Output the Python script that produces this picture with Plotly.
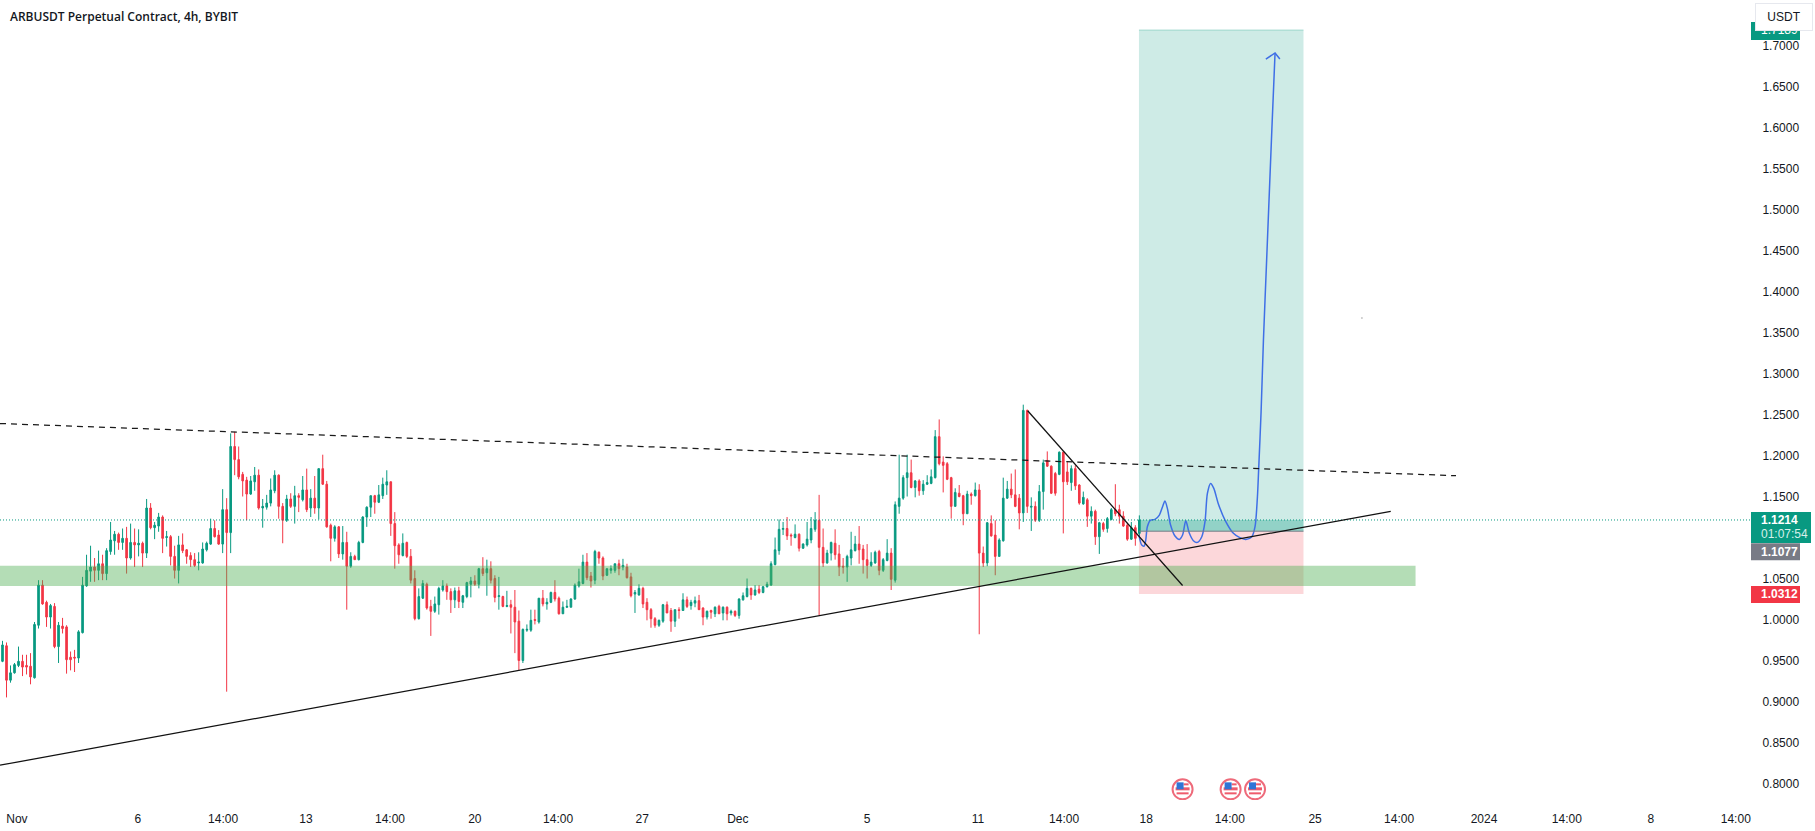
import plotly.graph_objects as go

# ---------- data ----------
opens = [.949,.968,.926,.935,.944,.949,.944,.943,.929,.993,
1.042,1.021,1.003,1.016,.967,.992,.991,.954,.954,.953,
.984,1.041,1.059,1.064,1.060,1.068,1.056,1.083,1.096,1.104,
1.094,1.099,1.075,1.094,1.091,1.093,1.081,1.136,1.112,1.114,
1.125,1.100,1.101,1.077,1.060,1.091,1.085,1.078,1.073,1.069,
1.069,1.085,1.092,1.111,1.103,1.092,1.134,1.106,1.211,1.195,
1.177,1.170,1.153,1.168,1.176,1.136,1.137,1.142,1.157,1.176,
1.138,1.121,1.147,1.138,1.151,1.146,1.158,1.136,1.148,1.136,
1.184,1.165,1.115,1.099,1.113,1.080,1.094,1.065,1.077,1.073,
1.094,1.125,1.137,1.151,1.143,1.151,1.164,1.168,1.117,1.091,
1.078,1.094,1.077,1.050,1.001,1.026,1.043,1.016,1.010,1.018,
1.036,1.041,1.034,1.024,1.035,1.021,1.028,1.043,1.047,1.043,
1.062,1.057,1.062,1.050,1.028,1.028,1.016,1.018,1.015,.998,
.950,.987,.987,1.000,.997,1.026,1.019,1.021,1.033,1.026,
1.007,1.015,1.015,1.025,1.041,1.044,1.070,1.053,1.048,1.082,
1.075,1.054,1.060,1.060,1.068,1.064,1.064,1.052,1.031,1.030,
1.038,1.021,1.012,1.001,.993,.998,1.018,1.011,.998,1.012,
1.011,1.024,1.017,1.020,1.023,1.014,1.003,1.011,1.007,1.016,
1.008,1.015,1.008,1.010,1.005,1.024,1.028,1.038,1.030,1.037,
1.033,1.040,1.042,1.067,1.084,1.110,1.111,1.103,1.100,1.104,
1.087,1.091,1.097,1.110,1.121,1.088,1.069,1.081,1.093,1.080,
1.065,1.064,1.075,1.084,1.092,1.086,1.073,1.066,1.069,1.083,
1.060,1.072,1.081,1.048,1.138,1.148,1.173,1.179,1.161,1.169,
1.157,1.165,1.166,1.173,1.223,1.192,1.190,1.173,1.138,1.154,
1.151,1.129,1.153,1.151,1.158,1.081,1.069,1.117,1.103,1.077,
1.096,1.148,1.159,1.152,1.148,1.130,1.255,1.137,1.138,1.121,
1.156,1.194,1.187,1.178,1.177,1.204,1.180,1.167,1.184,1.164,
1.141,1.146,1.126,1.132,1.101,1.117,1.111,1.122,1.134,1.134,
1.126,1.115,1.098,1.112,1.105]

highs = [.974,.972,.944,.947,.967,.957,.957,.959,.997,1.048,
1.048,1.023,1.019,1.020,.997,1.002,.993,.961,.963,.987,
1.052,1.079,1.090,1.075,1.084,1.079,1.087,1.119,1.108,1.106,
1.111,1.113,1.117,1.111,1.110,1.095,1.147,1.142,1.119,1.130,
1.127,1.108,1.103,1.090,1.102,1.105,1.086,1.082,1.081,1.082,
1.094,1.095,1.123,1.121,1.109,1.159,1.148,1.227,1.229,1.211,
1.180,1.174,1.175,1.186,1.183,1.147,1.152,1.172,1.182,1.177,
1.142,1.152,1.154,1.163,1.154,1.175,1.184,1.159,1.175,1.184,
1.201,1.169,1.117,1.115,1.114,1.114,1.107,1.082,1.079,1.096,
1.126,1.138,1.151,1.152,1.164,1.173,1.182,1.168,1.131,1.093,
1.105,1.095,1.086,1.060,1.038,1.048,1.045,1.024,1.028,1.040,
1.048,1.044,1.038,1.039,1.040,1.030,1.046,1.052,1.054,1.063,
1.076,1.073,1.071,1.054,1.052,1.029,1.035,1.024,1.036,1.011,
.989,.994,1.012,1.012,1.026,1.036,1.026,1.034,1.048,1.028,
1.022,1.024,1.026,1.044,1.062,1.079,1.081,1.058,1.085,1.083,
1.077,1.062,1.066,1.068,1.073,1.074,1.068,1.057,1.036,1.043,
1.040,1.026,1.014,1.003,1.000,1.019,1.022,1.014,1.012,1.015,
1.032,1.028,1.024,1.028,1.030,1.015,1.011,1.012,1.016,1.018,
1.016,1.016,1.012,1.011,1.026,1.033,1.050,1.039,1.042,1.042,
1.041,1.046,1.071,1.100,1.122,1.119,1.125,1.105,1.116,1.105,
1.093,1.119,1.125,1.131,1.152,1.111,1.085,1.095,1.110,1.091,
1.075,1.079,1.107,1.102,1.114,1.091,1.092,1.082,1.084,1.085,
1.075,1.098,1.087,1.144,1.201,1.176,1.201,1.195,1.170,1.171,
1.170,1.176,1.183,1.231,1.244,1.199,1.192,1.174,1.160,1.164,
1.152,1.157,1.155,1.167,1.165,1.089,1.119,1.127,1.121,1.099,
1.173,1.169,1.178,1.183,1.153,1.262,1.256,1.149,1.144,1.164,
1.195,1.205,1.188,1.180,1.205,1.205,1.192,1.188,1.188,1.165,
1.156,1.148,1.138,1.134,1.119,1.119,1.125,1.136,1.165,1.140,
1.132,1.118,1.119,1.115,1.127]

lows = [.948,.905,.923,.934,.942,.931,.933,.921,.928,.989,
1.018,.991,.989,.965,.947,.983,.934,.938,.936,.947,
.983,1.040,1.046,1.046,1.048,1.048,1.048,1.079,1.079,1.085,
1.085,1.056,1.073,1.064,1.077,1.064,1.075,1.110,1.098,1.107,
1.081,1.089,1.066,1.050,1.044,1.081,1.068,1.064,1.064,1.060,
1.068,1.083,1.091,1.100,1.091,1.081,.912,1.081,1.176,1.171,
1.150,1.121,1.152,1.157,1.134,1.112,1.134,1.138,1.154,1.123,
1.093,1.119,1.136,1.117,1.131,1.144,1.131,1.125,1.129,1.122,
1.164,1.112,1.071,1.095,1.075,1.073,1.012,1.063,1.073,1.072,
1.093,1.113,1.125,1.129,1.142,1.147,1.152,1.102,1.062,1.068,
1.077,1.075,1.044,.999,1.000,1.025,1.012,.980,1.008,1.006,
1.034,1.024,1.008,1.014,1.014,1.014,1.026,1.027,1.041,1.038,
1.053,1.029,1.044,1.021,1.012,1.015,1.015,.983,.959,.938,
.947,.985,.985,.994,.995,1.016,1.012,1.020,1.022,1.006,
1.007,1.014,1.015,1.024,1.039,1.043,1.048,1.039,1.043,1.068,
1.048,1.053,1.056,1.057,1.054,1.060,1.050,1.027,1.008,1.029,
1.014,.999,.990,.990,.991,.996,1.008,.985,.991,1.001,
1.011,1.014,1.012,1.015,1.012,.993,1.000,1.001,1.003,1.007,
.999,.999,1.005,1.003,1.001,1.023,1.027,1.024,1.029,1.031,
1.032,1.039,1.041,1.066,1.079,1.103,1.097,1.090,1.099,1.083,
1.086,1.089,1.093,1.107,1.005,1.064,1.068,1.072,1.073,1.053,
1.056,1.046,1.066,1.083,1.068,1.056,1.050,1.064,1.068,1.054,
1.058,1.071,1.036,1.045,1.129,1.146,1.150,1.160,1.149,1.151,
1.152,1.164,1.165,1.172,1.188,1.155,1.170,1.123,1.138,1.149,
1.115,1.129,1.140,1.150,.982,1.064,1.065,1.101,1.054,1.077,
1.095,1.147,1.148,1.137,1.110,1.119,1.130,1.108,1.119,1.119,
1.134,1.186,1.153,1.151,1.176,1.105,1.164,1.157,1.158,1.140,
1.140,1.113,1.117,1.091,1.080,1.107,1.106,1.121,1.126,1.117,
1.113,1.096,1.097,1.090,1.101]

closes = [.969,.926,.935,.945,.949,.942,.942,.930,.994,1.042,
1.019,1.003,1.017,.967,.993,.989,.951,.951,.953,.985,
1.042,1.060,1.064,1.060,1.068,1.056,1.084,1.097,1.104,1.094,
1.099,1.075,1.094,1.091,1.093,1.081,1.136,1.112,1.115,1.125,
1.099,1.101,1.077,1.060,1.091,1.084,1.077,1.073,1.066,1.070,
1.086,1.093,1.111,1.101,1.092,1.134,1.106,1.211,1.195,1.174,
1.169,1.153,1.169,1.176,1.136,1.138,1.142,1.158,1.176,1.138,
1.121,1.147,1.138,1.151,1.149,1.158,1.134,1.148,1.136,1.184,
1.165,1.113,1.099,1.113,1.080,1.094,1.065,1.077,1.073,1.094,
1.125,1.137,1.151,1.143,1.152,1.165,1.168,1.117,1.090,1.079,
1.093,1.077,1.048,1.001,1.028,1.044,1.014,1.010,1.019,1.038,
1.041,1.034,1.024,1.035,1.022,1.029,1.045,1.047,1.043,1.062,
1.056,1.062,1.048,1.027,1.029,1.016,1.017,1.015,.997,.950,
.988,.988,.999,.999,1.026,1.019,1.021,1.033,1.025,1.007,
1.015,1.016,1.025,1.042,1.046,1.070,1.051,1.047,1.083,1.075,
1.053,1.062,1.062,1.068,1.062,1.066,1.051,1.029,1.033,1.038,
1.019,1.012,1.001,.993,.999,1.018,1.008,.998,1.012,1.011,
1.024,1.016,1.021,1.023,1.012,1.003,1.010,1.009,1.015,1.007,
1.015,1.007,1.010,1.005,1.025,1.029,1.038,1.030,1.036,1.033,
1.040,1.043,1.068,1.085,1.110,1.111,1.102,1.102,1.104,1.087,
1.092,1.098,1.111,1.121,1.088,1.069,1.081,1.094,1.079,1.064,
1.064,1.077,1.085,1.092,1.085,1.073,1.066,1.070,1.082,1.060,
1.073,1.081,1.049,1.140,1.148,1.173,1.179,1.161,1.169,1.157,
1.165,1.167,1.174,1.223,1.190,1.188,1.171,1.138,1.155,1.150,
1.129,1.153,1.151,1.158,1.081,1.069,1.118,1.102,1.077,1.097,
1.148,1.159,1.152,1.138,1.130,1.255,1.138,1.138,1.121,1.156,
1.191,1.187,1.154,1.154,1.204,1.168,1.168,1.184,1.163,1.142,
1.149,1.126,1.132,1.101,1.118,1.110,1.123,1.134,1.129,1.126,
1.114,1.098,1.112,1.099,1.1214]

candle_index = list(range(len(opens)))

tick_positions = [3.6,33.8,55.1,75.8,96.8,118,138.8,159.8,183.7,216,243.7,265.2,285.7,306.6,327.9,348.9,370.1,390.8,411.8,433]
tick_labels = ["Nov","6","14:00","13","14:00","20","14:00","27","Dec","5","11","14:00","18","14:00","25","14:00","2024","14:00","8","14:00"]
# 1.1000 sits behind the last-price badge in the reference, so it is not labelled
price_ticks = [0.80,0.85,0.90,0.95,1.00,1.05,1.15,1.20,1.25,1.30,1.35,1.40,1.45,1.50,1.55,1.60,1.65,1.70]

# forecast sketch (blue brush stroke)
path_x = [283.9,284.6,285.2,285.6,286.0,286.8,287.9,289.0,289.8,290.4,291.0,291.8,292.9,294.0,294.8,295.6,296.5,297.5,298.5,299.6,300.4,301.0,301.8,302.6,303.7,305.4,307.5,309.1,310.6,312.1,312.9,313.5,313.8,314.4,315.0,315.7,317.1,317.9]
path_y = [1.1030,1.0908,1.0896,1.0969,1.1132,1.1213,1.1221,1.1274,1.1376,1.1445,1.1355,1.1152,1.1018,1.0977,1.1030,1.1205,1.1051,1.0961,1.0941,1.1010,1.1193,1.1538,1.1660,1.1599,1.1416,1.1213,1.1051,1.0998,1.0977,1.1010,1.1132,1.1498,1.1823,1.2518,1.3409,1.4262,1.5970,1.6909]
arrow_x = [315.6,317.9,319.1]
arrow_y = [1.6835,1.6909,1.6835]

# drawn levels
last_price = 1.1214
entry_price = 1.1077
stop_price = 1.0312
target_price = 1.7189
box_x = [283.9, 325.0]
zone_y = [1.0408, 1.0656]
zone_x_end = 353.0
dashed_x, dashed_y = [-0.625, 363.1], [1.2390, 1.1754]
rising_x, rising_y = [-0.625, 346.8], [0.8223, 1.1320]
falling_x, falling_y = [256.1, 294.8], [1.2546, 1.0415]
flag_x = [294.8, 306.8, 312.9]
flag_y = 0.7929
speck_x, speck_y = [339.6], [1.3677]

GREEN, RED, GREY, INK = "#089981", "#f23645", "#787b86", "#131722"
BLUE = "#3f6fe6"
FONT = "Liberation Sans"

fig = go.Figure()
fig.add_trace(go.Candlestick(
    x=candle_index, open=opens, high=highs, low=lows, close=closes,
    whiskerwidth=0,
    increasing=dict(line=dict(color=GREEN, width=1), fillcolor=GREEN),
    decreasing=dict(line=dict(color=RED, width=1), fillcolor=RED),
    showlegend=False, hoverinfo="skip"))
fig.add_trace(go.Scatter(x=path_x, y=path_y, mode="lines",
    line=dict(color=BLUE, width=1.5, shape="spline", smoothing=0.8),
    showlegend=False, hoverinfo="skip"))
fig.add_trace(go.Scatter(x=arrow_x, y=arrow_y, mode="lines",
    line=dict(color=BLUE, width=1.5), showlegend=False, hoverinfo="skip"))
fig.add_trace(go.Scatter(x=speck_x, y=speck_y, mode="markers",
    marker=dict(color="#c8c8c8", size=2), showlegend=False, hoverinfo="skip"))

shapes = [
    # long-position box
    dict(type="rect", layer="below", x0=box_x[0], x1=box_x[1], y0=entry_price, y1=target_price,
         fillcolor="rgba(8,153,129,0.2)", line_width=0),
    dict(type="rect", layer="below", x0=box_x[0], x1=box_x[1], y0=stop_price, y1=entry_price,
         fillcolor="rgba(242,54,69,0.2)", line_width=0),
    dict(type="rect", layer="below", x0=box_x[0], x1=box_x[1], y0=entry_price, y1=last_price,
         fillcolor="rgba(8,153,129,0.3)", line_width=0),
    dict(type="line", layer="below", x0=box_x[0], x1=box_x[1], y0=target_price, y1=target_price,
         line=dict(color="rgba(8,153,129,0.3)", width=1)),
    # demand zone
    dict(type="rect", layer="above", x0=-0.625, x1=zone_x_end, y0=zone_y[0], y1=zone_y[1],
         fillcolor="rgba(76,175,80,0.42)", line_width=0),
    dict(type="line", layer="above", x0=box_x[0], x1=box_x[1], y0=entry_price, y1=entry_price,
         line=dict(color=GREY, width=1)),
    # last price
    dict(type="line", layer="above", xref="paper", x0=0, x1=1, y0=last_price, y1=last_price,
         line=dict(color=GREEN, width=1, dash="1px,2px")),
    # trend lines
    dict(type="line", layer="above", x0=dashed_x[0], x1=dashed_x[1], y0=dashed_y[0], y1=dashed_y[1],
         line=dict(color="#1a1a1a", width=1.25, dash="6px,5px")),
    dict(type="line", layer="above", x0=rising_x[0], x1=rising_x[1], y0=rising_y[0], y1=rising_y[1],
         line=dict(color="#111111", width=1.25)),
    dict(type="line", layer="above", x0=falling_x[0], x1=falling_x[1], y0=falling_y[0], y1=falling_y[1],
         line=dict(color="#111111", width=1.25)),
]

# price-axis badges
def badge(price, top, bottom, width, color):
    return dict(type="rect", layer="above", xref="paper", xsizemode="pixel", xanchor=1, x0=0, x1=width,
                yref="y", ysizemode="pixel", yanchor=price, y0=bottom, y1=top,
                fillcolor=color, line_width=0)
shapes += [badge(target_price, 8, -10, 49, GREEN),
           badge(last_price, 8, -23, 60, GREEN),
           badge(entry_price, -12, -29, 49, GREY),
           badge(stop_price, 8, -9, 49, RED)]

# event flags
def pix(kind, fx, x0, x1, y0, y1, fill, line=None):
    return dict(type=kind, layer="above", xref="x", xsizemode="pixel", xanchor=fx, x0=x0, x1=x1,
                yref="y", ysizemode="pixel", yanchor=flag_y, y0=y0, y1=y1, fillcolor=fill,
                line=dict(color=line, width=2) if line else dict(width=0))
for fx in flag_x:
    shapes += [pix("circle", fx, -10, 10, -10, 10, "white", "#ee6a7a"),
               pix("rect", fx, -7, 7, -1, 2, "#ef5b6c"),
               pix("rect", fx, -6, 6, -5, -3, "#ef5b6c"),
               pix("rect", fx, 1, 6, 4, 6, "#ef5b6c"),
               pix("rect", fx, -6, 1, 0, 7, "#2f75d6")]

def label(text, price, color="white", yshift=0, weight=400):
    return dict(xref="paper", x=1, xanchor="left", xshift=8, yref="y", y=price, yanchor="middle",
                yshift=yshift, text=text, showarrow=False,
                font=dict(family=FONT, size=12, color=color, weight=weight))

annotations = [
    dict(xref="paper", x=8/1751, xanchor="left", yref="paper", y=1-16.5/800, yanchor="middle",
         text="ARBUSDT Perpetual Contract, 4h, BYBIT", showarrow=False,
         font=dict(family="Open Sans", size=12, color=INK, weight=600)),
    label("1.7189", target_price),
    label("1.1214", last_price, weight=700),
    label("01:07:54", last_price, yshift=-14, color="#d6f0ea"),
    label("1.1077", entry_price, yshift=-20.5, weight=700),
    label("1.0312", stop_price, weight=700),
    dict(xref="paper", x=1784/1751, xanchor="center", yref="paper", y=1-17/800, yanchor="middle",
         text="USDT", showarrow=False, width=54, height=24, bgcolor="white",
         bordercolor="#e6e8ee", borderwidth=1, font=dict(family=FONT, size=12, color=INK)),
]

fig.update_layout(
    width=1815, height=831, margin=dict(l=0, r=64, t=0, b=31),
    paper_bgcolor="white", plot_bgcolor="white", showlegend=False,
    boxgap=0.42, hovermode=False, shapes=shapes, annotations=annotations,
    xaxis=dict(range=[-0.625, 436.8], rangeslider=dict(visible=False), showgrid=False, zeroline=False,
               showline=False, tickmode="array", tickvals=tick_positions, ticktext=tick_labels,
               ticks="outside", ticklen=8, tickcolor="white",
               tickfont=dict(family=FONT, size=12, color=INK)),
    yaxis=dict(range=[0.7799, 1.7555], side="right", showgrid=False, zeroline=False, showline=False,
               tickmode="array", tickvals=price_ticks, ticktext=[f"{p:.4f}" for p in price_ticks],
               ticks="outside", ticklen=8, tickcolor="white",
               tickfont=dict(family=FONT, size=12, color=INK)),
)

fig.write_html("out.html", config={"displayModeBar": False},
               post_script="document.body.style.margin='0';document.body.style.overflow='hidden';")
